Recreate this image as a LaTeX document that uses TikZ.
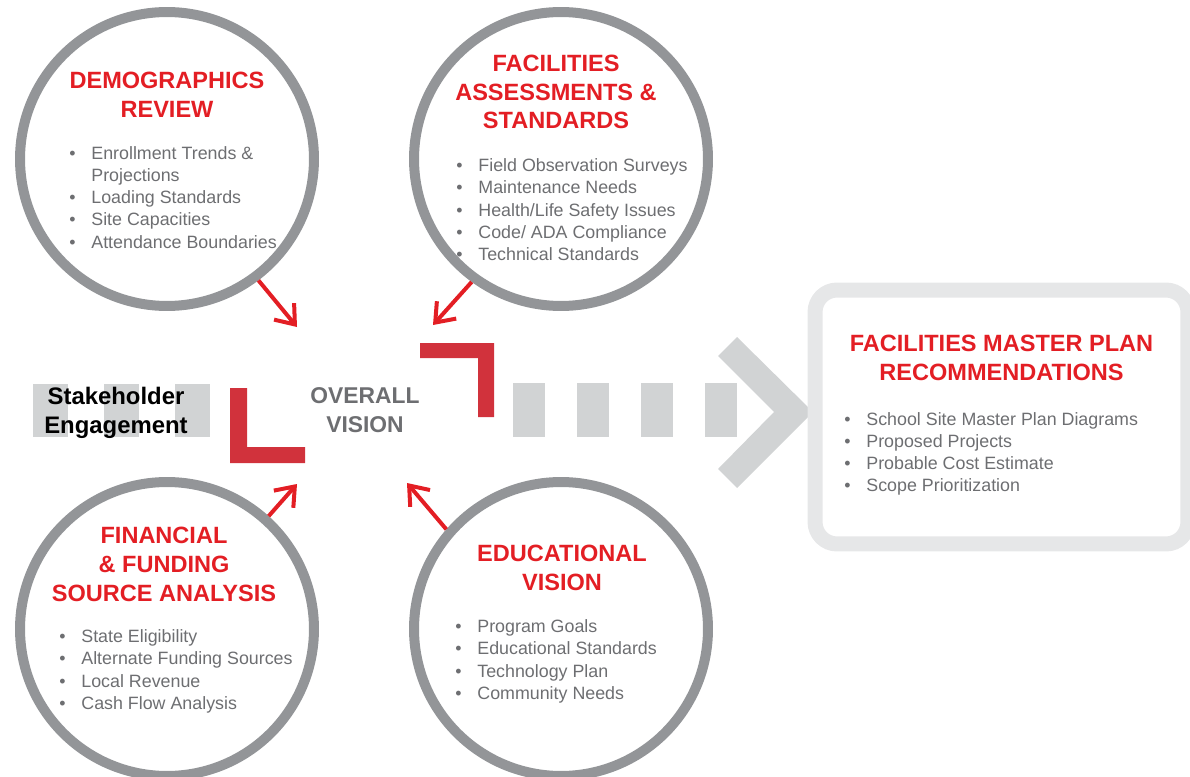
\documentclass[tikz,border=0pt]{standalone}
\usepackage{fontspec}
\setmainfont{Liberation Sans}
\usetikzlibrary{arrows.meta}

\definecolor{ringgray}{HTML}{939598}
\definecolor{titlered}{HTML}{E31E24}
\definecolor{textgray}{HTML}{6D6E71}
\definecolor{cornerred}{HTML}{D1323C}
\definecolor{bargray}{HTML}{D1D3D4}
\definecolor{boxgray}{HTML}{E6E7E8}

\newcommand{\titlesize}{\fontsize{13.4pt}{16.3pt}\selectfont\bfseries}
\newcommand{\itemsize}{\fontsize{10.15pt}{12.64pt}\selectfont}
\newcommand{\itemlist}[1]{\begin{tabular}[t]{@{}l@{\hspace{9pt}}l@{}}#1\end{tabular}}

\begin{document}
\begin{tikzpicture}[x = {(0.02cm, 0cm)},
                    y = {(0cm, -0.02cm)},
                    ring/.style = {circle, draw = ringgray, line width = 0.2cm,
                                   minimum size = 5.88cm, inner sep = 0pt},
                    title/.style = {anchor = base, align = center, inner sep = 0pt,
                                    text = titlered, font = \titlesize},
                    items/.style = {anchor = base west, inner sep = 0pt,
                                    text = textgray, font = \itemsize},
                    feed/.style = {draw = titlered, line width = 0.08cm,
                                   -{Straight Barb[length = 0.34cm, width = 0.52cm]}}]

  \useasboundingbox (0, 0) rectangle (1190, 777);

  % dashed band with chevron
  \foreach \x in {33, 104, 175}
    \fill[bargray] (\x, 384) rectangle ++(35, 53);
  \foreach \x in {513, 577, 641, 705}
    \fill[bargray] (\x, 383) rectangle ++(32, 54);
  \fill[bargray] (737, 337) -- (813, 412) -- (737, 488) -- (718, 469)
                 -- (774, 412) -- (718, 356) -- cycle;

  % corner marks
  \fill[cornerred] (230, 388) -- (247, 388) -- (247, 447) -- (305, 447)
                   -- (305, 463) -- (230, 463) -- cycle; % bottom left
  \fill[cornerred] (420, 343) -- (494, 343) -- (494, 417) -- (478, 417)
                   -- (478, 358) -- (420, 358) -- cycle; % top right

  % centre (base anchor sits on the last line)
  \node (stake) [anchor = base, align = center, inner sep = 0pt,
                 font = \fontsize{13.6pt}{16.4pt}\selectfont\bfseries]
    at (116, 433) {Stakeholder\\Engagement};
  \node (vision) [anchor = base, align = center, inner sep = 0pt, text = textgray,
                  font = \fontsize{13pt}{16.4pt}\selectfont\bfseries]
    at (365, 432) {OVERALL\\VISION};

  % rings
  \node (demo) [ring] at (167, 159) {};
  \node (fac)  [ring] at (561, 159) {};
  \node (fin)  [ring] at (167, 629) {};
  \node (edu)  [ring] at (561, 629) {};

  % arrows to the centre
  \coordinate (demotip) at (297, 327);
  \coordinate (factip)  at (433, 325);
  \coordinate (fintip)  at (297, 484);
  \coordinate (edutip)  at (407, 483);
  \draw[feed] (demo.-53.5) -- (demotip);
  \draw[feed] (fac.-126)   -- (factip);
  \draw[feed] (fin.48)     -- (fintip);
  \draw[feed] (edu.139.5)  -- (edutip);

  % ring texts
  \node (demotitle) [title] at (167, 117) {DEMOGRAPHICS\\REVIEW};
  \node (demoitems) [items] at (69, 159.3) {\itemlist{%
      • & Enrollment Trends \&\\
        & Projections\\
      • & Loading Standards\\
      • & Site Capacities\\
      • & Attendance Boundaries}};

  \node (factitle) [title] at (556, 129) {FACILITIES\\ASSESSMENTS \&\\STANDARDS};
  \node (facitems) [items] at (456, 171.7) {\itemlist{%
      • & Field Observation Surveys\\
      • & Maintenance Needs\\
      • & Health/Life Safety Issues\\
      • & Code/ ADA Compliance\\
      • & Technical Standards}};

  \node (fintitle) [title] at (164, 601) {FINANCIAL\\\& FUNDING\\SOURCE ANALYSIS};
  \node (finitems) [items] at (59, 642.7) {\itemlist{%
      • & State Eligibility\\
      • & Alternate Funding Sources\\
      • & Local Revenue\\
      • & Cash Flow Analysis}};

  \node (edutitle) [title] at (562, 590) {EDUCATIONAL\\VISION};
  \node (eduitems) [items] at (455, 632.7) {\itemlist{%
      • & Program Goals\\
      • & Educational Standards\\
      • & Technology Plan\\
      • & Community Needs}};

  % result box
  \node (plan) [draw = boxgray, line width = 0.3cm, rounded corners = 0.44cm,
                minimum width = 7.46cm, minimum height = 5.08cm] at (1001.5, 417) {};
  \node (plantitle) [title] at (1001.5, 380) {FACILITIES MASTER PLAN\\RECOMMENDATIONS};
  \node (planitems) [items] at (844, 425) {\itemlist{%
      • & School Site Master Plan Diagrams\\
      • & Proposed Projects\\
      • & Probable Cost Estimate\\
      • & Scope Prioritization}};
\end{tikzpicture}
\end{document}
